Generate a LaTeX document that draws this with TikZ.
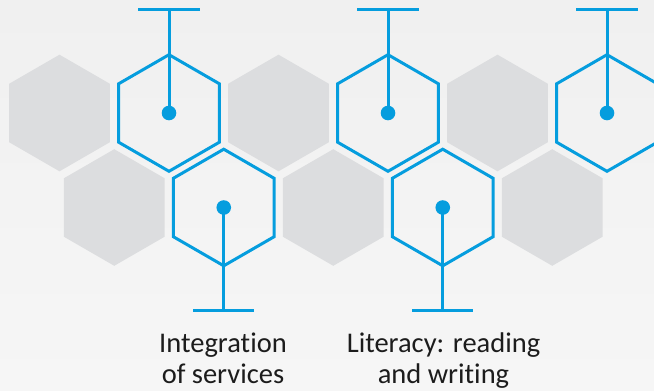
\documentclass[tikz,border=0pt]{standalone}
\usepackage{fontspec}
\setmainfont{Carlito}[RawFeature=-liga]
\usetikzlibrary{shapes.geometric}
\definecolor{hexblue}{RGB}{5,157,222}
\definecolor{hexgray}{RGB}{220,221,223}
\definecolor{bgtop}{RGB}{240,240,240}
\definecolor{bgbot}{RGB}{246,246,246}
\definecolor{txt}{RGB}{28,28,28}
\tikzset{
  hexbase/.style={regular polygon, regular polygon sides=6, shape border rotate=30,
    minimum size=116.6pt, inner sep=0pt, outer sep=0pt},
  hexgrey/.style={hexbase, fill=hexgray},
  hexline/.style={hexbase, draw=hexblue, line width=3pt},
  stem/.style={draw=hexblue, line width=3pt},
  dotnode/.style={circle, fill=hexblue, minimum size=14.6pt, inner sep=0pt},
  label/.style={font=\fontsize{28.5}{30.6}\selectfont, text=txt, align=center, anchor=base}
}
\begin{document}
\begin{tikzpicture}[x=1pt,y=-1pt]
\useasboundingbox (0,0) rectangle (654,391);
\shade[top color=bgtop, bottom color=bgbot] (0,0) rectangle (654,391);
% grey hexagons
\node[hexgrey] (g1) at (59.5,113) {};
\node[hexgrey] (g2) at (278.5,113) {};
\node[hexgrey] (g3) at (497.5,113) {};
\node[hexgrey] (g4) at (114.25,207.5) {};
\node[hexgrey] (g5) at (333.25,207.5) {};
\node[hexgrey] (g6) at (552.25,207.5) {};
% blue hexagons
\node[hexline] (b1) at (169,113) {};
\node[hexline] (b2) at (388,113) {};
\node[hexline] (b3) at (607,113) {};
\node[hexline] (b4) at (223.75,207.5) {};
\node[hexline] (b5) at (442.75,207.5) {};
% bar coordinates
\coordinate (t1) at (169,9.3);   \coordinate (t1l) at (138,9.3); \coordinate (t1r) at (200,9.3);
\coordinate (t2) at (388,9.3);   \coordinate (t2l) at (357,9.3); \coordinate (t2r) at (419,9.3);
\coordinate (t3) at (607,9.3);   \coordinate (t3l) at (576,9.3); \coordinate (t3r) at (638,9.3);
\coordinate (u4) at (223.75,310.7); \coordinate (u4l) at (193.25,310.7); \coordinate (u4r) at (254.25,310.7);
\coordinate (u5) at (442.75,310.7); \coordinate (u5l) at (412.25,310.7); \coordinate (u5r) at (473.25,310.7);
% stems and bars
\foreach \h/\t in {b1/t1,b2/t2,b3/t3,b4/u4,b5/u5}{
  \draw[stem] (\h.center) -- (\t);
  \draw[stem] (\t l) -- (\t r);
}
% dots
\foreach \h in {b1,b2,b3,b4,b5}{
  \node[dotnode] (d\h) at (\h.center) {};
}
% labels
\node[label] (l1) at (223,383.3) {Integration\\of services};
\node[label] (l2) at (443.5,383.3) {Literacy: reading\\and writing};
\end{tikzpicture}
\end{document}
